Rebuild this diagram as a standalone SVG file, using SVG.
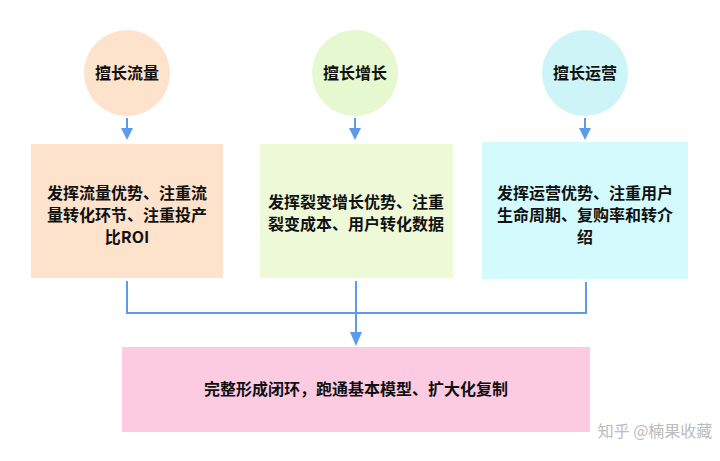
<svg xmlns="http://www.w3.org/2000/svg" width="720" height="461" viewBox="0 0 720 461">
<style>
text{font-family:"Noto Sans CJK SC","Liberation Sans",sans-serif;font-size:16px;font-weight:bold;fill:#111;text-anchor:middle}
.ln{stroke:#5b9bea;stroke-width:2;fill:none}
</style>
<rect width="720" height="461" fill="#fff"/>
<g id="c1"><circle cx="127" cy="73" r="43" fill="#fde3cc"/><text x="127" y="79">擅长流量</text></g>
<g id="c2"><circle cx="355" cy="73" r="43" fill="#e6f8cf"/><text x="355" y="79">擅长增长</text></g>
<g id="c3"><circle cx="585" cy="73" r="43" fill="#cdf5f8"/><text x="585" y="79">擅长运营</text></g>
<g id="b1"><rect x="31" y="144" width="192" height="134" fill="#fde3cc"/><text x="127" y="199">发挥流量优势、注重流</text><text x="127" y="221">量转化环节、注重投产</text><text x="127" y="243">比ROI</text></g>
<g id="b2"><rect x="260" y="144" width="193" height="134" fill="#edf9d7"/><text x="356" y="208">发挥裂变增长优势、注重</text><text x="356" y="230">裂变成本、用户转化数据</text></g>
<g id="b3"><rect x="482" y="142" width="206" height="137" fill="#d3fafc"/><text x="585" y="199">发挥运营优势、注重用户</text><text x="585" y="221">生命周期、复购率和转介</text><text x="585" y="243">绍</text></g>
<g id="b4"><rect x="122" y="347" width="468" height="85" fill="#fccbe2"/><text x="356" y="395">完整形成闭环，跑通基本模型、扩大化复制</text></g>
<g id="connectors">
<path class="ln" d="M127,118 V130"/><path d="M121,128 L133,128 L127,140 Z" fill="#5b9bea"/>
<path class="ln" d="M355,118 V130"/><path d="M349,128 L361,128 L355,140 Z" fill="#5b9bea"/>
<path class="ln" d="M585,118 V130"/><path d="M579,128 L591,128 L585,140 Z" fill="#5b9bea"/>
<path class="ln" d="M127,281 V313 H586 V282"/>
<path class="ln" d="M356,281 V334"/><path d="M350,332 L362,332 L356,346 Z" fill="#5b9bea"/>
</g>
<text x="655" y="437" style="font-size:16px;font-weight:normal;fill:#bbb">知乎 @楠果收藏</text>
</svg>
